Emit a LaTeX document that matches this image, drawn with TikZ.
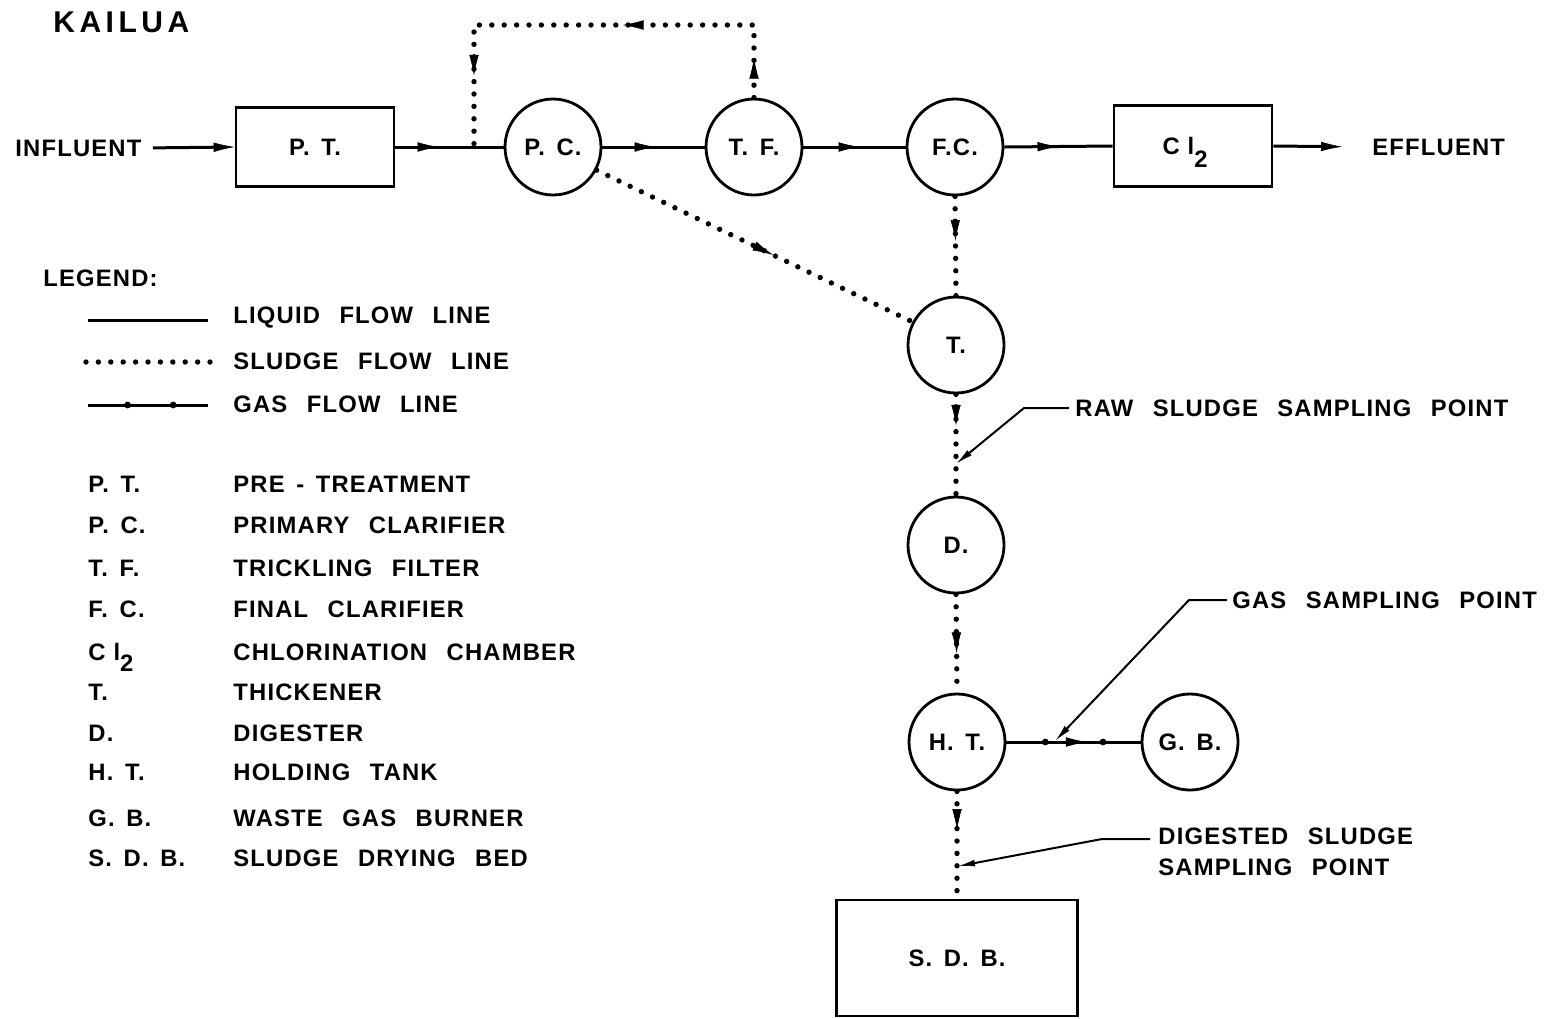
\documentclass[tikz,border=0pt]{standalone}
\usepackage{fontspec}
\setmainfont{Liberation Sans}
\newfontfamily\lbl[LetterSpace=5,WordSpace=2.5]{Liberation Sans}
\newfontfamily\abf[LetterSpace=4.9,WordSpace=1.5]{Liberation Sans}
\newfontfamily\ttl[LetterSpace=15]{Liberation Sans}
\usetikzlibrary{arrows.meta,decorations.markings,calc}
\tikzset{
  >={Latex[length=10.5pt,width=4.8pt,line width=0.3pt]},
  lab/.style={font=\lbl\bfseries\fontsize{11.9}{15.5}\selectfont, inner sep=0pt},
  abl/.style={font=\abf\bfseries\fontsize{11.9}{15.5}\selectfont, inner sep=0pt},
  unit/.style={abl, circle, draw, line width=1.4pt, minimum size=48pt},
  tank/.style={abl, draw, line width=1.4pt},
  liquid/.style={line width=1.5pt},
  sludge/.style={line width=2.7pt, line cap=round, dash pattern=on 0pt off 6.2pt},
  leader/.style={line width=1pt, -{Latex[length=8pt,width=3.4pt,line width=0.3pt]}},
  midtip/.style={postaction={decorate,decoration={markings,mark=at position #1 with {\arrow{>}}}}},
  gasdot/.style={postaction={decorate,decoration={markings,mark=at position #1 with {\fill (0,0) circle (1.7pt);}}}},
}
\begin{document}
\begin{tikzpicture}[x=0.5pt,y=-0.5pt]
\useasboundingbox (0,0) rectangle (1550,1018);
% title
\node[inner sep=0pt,anchor=west,font=\ttl\bfseries\fontsize{15}{18}\selectfont] (title) at (53,22) {KAILUA};
% main line
\node[lab,anchor=west] (infl) at (15,148) {INFLUENT};
\node[tank,minimum width=79pt,minimum height=39.5pt] (pt) at (315,147) {P. T.};
\node[unit] (pc) at (553,147) {P. C.};
\node[unit] (tf) at (754,147) {T. F.};
\node[unit] (fc) at (955,147) {F.C.};
\node[tank,minimum width=79pt,minimum height=40.5pt,text depth=0pt] (cl) at (1193,146) {\hspace*{-8pt}C\hspace{4pt}l\raisebox{-6.5pt}{2}};
\node[lab,anchor=west] (eff) at (1372,147) {EFFLUENT};
\coordinate (rj) at (474,147);
\coordinate (rtop) at (754,25);
\draw[liquid,->,shorten <=5.5pt] (infl.east) -- (pt.west);
\draw[liquid,midtip=0.4] (pt.east) -- (pc.west);
\draw[liquid,midtip=0.52] (pc.east) -- (tf.west);
\draw[liquid,midtip=0.55] (tf.east) -- (fc.west);
\draw[liquid,midtip=0.5] (fc.east) -- (cl.west);
\draw[liquid,->,shorten >=15pt] (cl.east) -- (eff.west);
% recycle
\draw[sludge,midtip=0.084,midtip=0.43,midtip=0.85] (tf.north) -- (rtop) -| (rj);
% sludge train
\node[unit] (t) at (956,345) {T.};
\node[unit] (d) at (956,545) {D.};
\node[unit] (ht) at (957,742) {H. T.};
\node[unit] (gb) at (1190,742) {G. B.};
\node[tank,minimum width=120.5pt,minimum height=58pt] (sdb) at (957,958) {S. D. B.};
\draw[sludge,midtip=0.56] (pc.-28) -- (t.152);
\draw[sludge,midtip=0.45] (fc.south) -- (t.north);
\draw[sludge,midtip=0.31] (t.south) -- (d.north);
\draw[sludge,midtip=0.6] (d.south) -- (ht.north);
\draw[sludge,midtip=0.36] (ht.south) -- (sdb.north);
% gas
\draw[liquid,gasdot=0.29,gasdot=0.72,midtip=0.6] (ht.east) -- (gb.west);
% sampling points
\node[lab,anchor=west] (rawtxt) at (1075,408) {RAW SLUDGE SAMPLING POINT};
\coordinate (rawpt) at (957,463);
\draw[leader] (rawtxt.west) ++(-6,0) -- ++(-45,0) -- (rawpt);
\node[lab,anchor=west] (gastxt) at (1232,600) {GAS SAMPLING POINT};
\coordinate (gaspt) at (1056,740);
\draw[leader] (gastxt.west) ++(-5,0) -- ++(-38,0) -- (gaspt);
\node[lab,anchor=west] (dig1) at (1158,836) {DIGESTED SLUDGE};
\node[lab,anchor=west] (dig2) at (1158,867) {SAMPLING POINT};
\coordinate (digpt) at (959,866);
\draw[leader] (dig1.west) ++(-8,3) -- ++(-48,0) -- (digpt);
% legend
\node[lab,anchor=west] (leg) at (43,278) {LEGEND:};
\node[lab,anchor=west] (lq) at (233,318) {LIQUID FLOW LINE};
\node[lab,anchor=west] (sl) at (233,361) {SLUDGE FLOW LINE};
\node[lab,anchor=west] (gs) at (233,404) {GAS FLOW LINE};
\coordinate (lqa) at (88,320); \coordinate (lqb) at (208,320);
\coordinate (sla) at (86,362); \coordinate (slb) at (210,362);
\coordinate (gsa) at (88,405); \coordinate (gsb) at (208,405);
\draw[liquid] (lqa) -- (lqb);
\draw[sludge] (sla) -- (slb);
\draw[liquid,gasdot=0.33,gasdot=0.71] (gsa) -- (gsb);
\node[abl,anchor=base west] (de1) at (233,492) {PRE - TREATMENT};
\foreach \y/\ab/\de [count=\i] in {484/P. T./, 525/P. C./PRIMARY CLARIFIER, 568/T. F./TRICKLING FILTER, 609/F. C./FINAL CLARIFIER, 652/{C\hspace{4pt}l\raisebox{-5.5pt}{2}}/CHLORINATION CHAMBER, 692/T./THICKENER, 733/D./DIGESTER, 772/H. T./HOLDING TANK, 818/G. B./WASTE GAS BURNER, 858/S. D. B./SLUDGE DRYING BED}{
  \node[abl,anchor=base west] (ab\i) at (88,\y+8) {\ab};
  \ifnum\i>1 \node[lab,anchor=base west] (de\i) at (233,\y+8) {\de};\fi
}
\end{tikzpicture}
\end{document}
